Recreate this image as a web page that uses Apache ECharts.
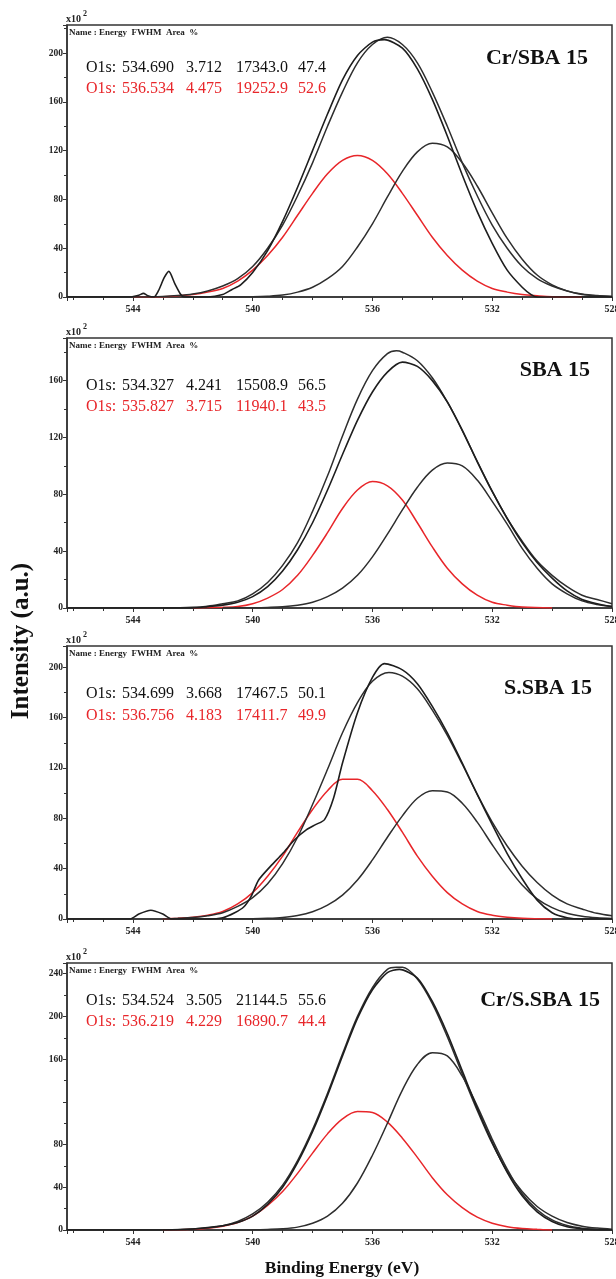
<!DOCTYPE html>
<html>
<head>
<meta charset="utf-8">
<script src="https://cdn.jsdelivr.net/npm/echarts@6/dist/echarts.min.js"></script>
<style>
html, body { margin: 0; padding: 0; background: #fff; }
#chart { width: 616px; height: 1279px; }
</style>
</head>
<body>
<div id="chart"></div>
<script>
// O1s spectra, [binding energy (eV), intensity x10^2]

// Cr/SBA 15
var crSbaData = [[546.2,0],[545,0],[544.1,0],[543.8,1.5],[543.65,3],[543.5,1],[543.3,0],[543.15,5],[542.95,16],[542.8,21],[542.6,11],[542.4,2],[542.3,0],[541.5,0],[541,2],[540.7,6],[540.4,10],[540,20],[539.5,38],[539,62],[538.5,90],[538,120],[537.5,150],[537,178],[536.5,198],[536,209],[535.6,211],[535,204],[534.5,187],[534,162],[533.5,132],[533,100],[532.5,70],[532,44],[531.5,22],[531,8],[530.7,2],[530.5,0],[528,0]];
var crSbaEnvelope = [[544,0],[543,0.5],[542.5,1.2],[542,2.5],[541.5,5],[541,9],[540.5,15],[540,25],[539.5,40],[539,59],[538.5,83],[538,110],[537.5,140],[537,168],[536.5,192],[536,207],[535.5,213],[535,207],[534.5,192],[534,168],[533.5,140],[533,110],[532.5,83],[532,59],[531.5,40],[531,25],[530.5,15],[530,9],[529.5,5],[529,2.5],[528.5,1.2],[528,0.5]];
var crSbaPeak1 = [[541,0],[540,0.2],[539.5,0.6],[539,1.6],[538.5,4],[538,8],[537.5,15],[537,25],[536.5,41],[536,60],[535.5,82],[535,103],[534.5,119],[534,126],[533.5,123],[533,110],[532.5,91],[532,69],[531.5,48],[531,31],[530.5,18],[530,10],[529.5,5],[529,2],[528.5,1],[528,0.4]];
var crSbaPeak2 = [[544,0],[543,0.3],[542.5,1],[542,2],[541.5,4],[541,7],[540.5,13],[540,22],[539.5,34],[539,49],[538.5,67],[538,85],[537.5,101],[537,112],[536.5,116],[536,112],[535.5,101],[535,85],[534.5,67],[534,49],[533.5,34],[533,22],[532.5,13],[532,7],[531.5,4],[531,2],[530.5,1],[530,0.3],[529,0]];
var crSbaRows = [['O1s:','534.690','3.712','17343.0','47.4'],['O1s:','536.534','4.475','19252.9','52.6']];

// SBA 15
var sbaData = [[546.2,0],[542,0],[541.5,1],[541,2],[540.5,4],[540,8],[539.5,15],[539,26],[538.5,41],[538,60],[537.5,83],[537,108],[536.5,132],[536,152],[535.5,166],[535,173],[534.5,170],[534,160],[533.5,145],[533,125],[532.5,103],[532,82],[531.5,63],[531,46],[530.5,32],[530,21],[529.5,12],[529,6],[528.5,3],[528,1]];
var sbaEnvelope = [[543,0],[542,0.5],[541.5,1.3],[541,3],[540.5,5],[540,10],[539.5,18],[539,30],[538.5,46],[538,68],[537.5,93],[537,121],[536.5,147],[536,167],[535.5,179],[535.2,181],[535,180],[534.5,174],[534,162],[533.5,145],[533,125],[532.5,103],[532,82],[531.5,63],[531,47],[530.5,33],[530,23],[529.5,15],[529,9],[528.5,6],[528,3]];
var sbaPeak1 = [[541,0],[540,0.2],[539.5,0.4],[539,0.8],[538.5,1.9],[538,4],[537.5,8],[537,14],[536.5,23],[536,36],[535.5,52],[535,69],[534.5,85],[534,97],[533.5,102],[533,100],[532.5,90],[532,75],[531.5,59],[531,42],[530.5,28],[530,17],[529.5,10],[529,5],[528.5,2.5],[528,1.1]];
var sbaPeak2 = [[542,0],[541,0.5],[540.5,1],[540,3],[539.5,7],[539,13],[538.5,23],[538,37],[537.5,53],[537,70],[536.5,83],[536,89],[535.5,86],[535,76],[534.5,60],[534,43],[533.5,28],[533,17],[532.5,9],[532,4],[531.5,2],[531,0.7],[530,0]];
var sbaRows = [['O1s:','534.327','4.241','15508.9','56.5'],['O1s:','535.827','3.715','11940.1','43.5']];

// S.SBA 15
var ssbaData = [[546.2,0],[545.5,0],[544.1,0],[543.8,4],[543.4,7],[543.0,4],[542.7,0],[541.5,0],[541,1],[540.6,5],[540.3,9.5],[540.05,18],[539.8,31],[539.4,42],[539,52],[538.6,63],[538.2,71],[537.9,75],[537.6,79],[537.3,96],[537,124],[536.5,164],[536,192],[535.6,203],[535,198],[534.5,187],[534,169],[533.5,148],[533,124],[532.5,99],[532,75],[531.5,52],[531,32],[530.5,15],[530,5],[529.5,1],[529,0],[528,0]];
var ssbaEnvelope = [[543,0],[542.5,0.5],[542,1.2],[541.5,2.6],[541,5],[540.5,10],[540,17],[539.5,28],[539,44],[538.5,65],[538,91],[537.5,119],[537,148],[536.5,172],[536,189],[535.45,196],[535,193],[534.5,183],[534,166],[533.5,146],[533,123],[532.5,99],[532,77],[531.5,58],[531,42],[530.5,29],[530,19],[529.5,12],[529,8],[528.5,4.5],[528,2.5]];
var ssbaPeak1 = [[541,0],[540,0.2],[539.5,0.5],[539,1.2],[538.5,2.7],[538,5.7],[537.5,11],[537,19],[536.5,31],[536,47],[535.5,65],[535,82],[534.5,96],[534,102],[533.5,101],[533,92],[532.5,77],[532,59],[531.5,42],[531,27],[530.5,16],[530,9],[529.5,4.5],[529,2.1],[528.5,0.9],[528,0.4]];
var ssbaPeak2 = [[543,0],[542.5,0.6],[542,1.4],[541.5,3],[541,6],[540.5,12],[540,21],[539.5,34],[539,50],[538.5,69],[538,87],[537.5,102],[537,111],[536.5,111],[536,102],[535.5,87],[535,69],[534.5,50],[534,34],[533.5,21],[533,12],[532.5,6],[532,3],[531.5,1.4],[531,0.6],[530,0]];
var ssbaRows = [['O1s:','534.699','3.668','17467.5','50.1'],['O1s:','536.756','4.183','17411.7','49.9']];

// Cr/S.SBA 15
var crSsbaData = [[546.2,0],[543,0],[542,1],[541,4],[540.5,7],[540,13],[539.5,24],[539,40],[538.5,63],[538,92],[537.5,126],[537,163],[536.5,198],[536,225],[535.5,241],[535.1,244],[534.5,236],[534,214],[533.5,184],[533,149],[532.5,114],[532,82],[531.5,54],[531,32],[530.5,17],[530,8],[529.5,3],[529,1],[528.5,0],[528,0]];
var crSsbaEnvelope = [[543,0],[542,0.9],[541.5,2],[541,4],[540.5,8],[540,15],[539.5,26],[539,42],[538.5,65],[538,94],[537.5,128],[537,165],[536.5,200],[536,227],[535.5,244],[535.2,246],[535,246],[534.5,235],[534,212],[533.5,181],[533,146],[532.5,112],[532,81],[531.5,55],[531,36],[530.5,22],[530,13],[529.5,7],[529,3.6],[528.5,1.8],[528,0.8]];
var crSsbaPeak1 = [[541,0],[540,0.2],[539.5,0.5],[539,1.1],[538.5,2.7],[538,6.3],[537.5,13],[537,25],[536.5,44],[536,70],[535.5,100],[535,131],[534.5,155],[534,166],[533.5,163],[533,144],[532.5,116],[532,85],[531.5,57],[531,34],[530.5,19],[530,9.4],[529.5,4.2],[529,1.7],[528.5,0.7],[528,0.2]];
var crSsbaPeak2 = [[543,0],[542,0.7],[541.5,1.7],[541,3.6],[540.5,7],[540,13],[539.5,23],[539,36],[538.5,53],[538,72],[537.5,90],[537,104],[536.5,111],[536,110],[535.5,101],[535,86],[534.5,68],[534,49],[533.5,33],[533,21],[532.5,12],[532,6.4],[531.5,3.1],[531,1.4],[530.5,0.6],[530,0]];
var crSsbaRows = [['O1s:','534.524','3.505','21144.5','55.6'],['O1s:','536.219','4.229','16890.7','44.4']];

var SERIF = '"Liberation Serif", "Times New Roman", serif';
var BLACK = '#2e2e2e';
var RED = '#e8262a';

var panels = [
    {title: 'Cr/SBA 15', top: 25, bottom: 297, yMax: 223, hide: [], data: crSbaData, fit: crSbaEnvelope, p1: crSbaPeak1, p2: crSbaPeak2, rows: crSbaRows, titleX: 588, titleY: 58, rowY: [68, 89]},
    {title: 'SBA 15', top: 338, bottom: 608, yMax: 190, hide: [], data: sbaData, fit: sbaEnvelope, p1: sbaPeak1, p2: sbaPeak2, rows: sbaRows, titleX: 590, titleY: 370, rowY: [386, 407]},
    {title: 'S.SBA 15', top: 646, bottom: 919, yMax: 217, hide: [], data: ssbaData, fit: ssbaEnvelope, p1: ssbaPeak1, p2: ssbaPeak2, rows: ssbaRows, titleX: 592, titleY: 688, rowY: [694, 716]},
    {title: 'Cr/S.SBA 15', top: 963, bottom: 1230, yMax: 250, hide: [120], data: crSsbaData, fit: crSsbaEnvelope, p1: crSsbaPeak1, p2: crSsbaPeak2, rows: crSsbaRows, titleX: 600, titleY: 1000, rowY: [1001, 1022]}
];
var rowX = [86, 122, 186, 236, 298];

var grids = [], xAxes = [], yAxes = [], series = [], graphics = [];

panels.forEach(function (p, i) {
    grids.push({
        left: 67, right: 4, top: p.top, height: p.bottom - p.top,
        outerBoundsMode: 'none', containLabel: false,
        show: true, borderColor: '#333', borderWidth: 1.5, backgroundColor: 'transparent'
    });
    xAxes.push({
        type: 'value', gridIndex: i, inverse: true, min: 528, max: 546.2, interval: 4,
        axisLine: {onZero: false, lineStyle: {color: '#333', width: 1.5}},
        axisTick: {length: 4, lineStyle: {color: '#333'}},
        minorTick: {show: true, splitNumber: 4, length: 3, lineStyle: {color: '#333'}},
        splitLine: {show: false},
        axisLabel: {
            fontFamily: SERIF, fontWeight: 'bold', fontSize: 10, color: '#222', margin: 7,
            formatter: function (v) { return v % 4 === 0 ? String(v) : ''; }
        }
    });
    yAxes.push({
        type: 'value', gridIndex: i, min: 0, max: p.yMax, interval: 40,
        axisLine: {show: true, onZero: false, lineStyle: {color: '#333', width: 1.5}},
        axisTick: {show: true, length: 4, lineStyle: {color: '#333'}},
        minorTick: {show: true, splitNumber: 2, length: 3, lineStyle: {color: '#333'}},
        splitLine: {show: false},
        axisLabel: {
            fontFamily: SERIF, fontWeight: 'bold', fontSize: 9.5, color: '#222', margin: 4,
            formatter: function (v) {
                if (v % 40 !== 0 || p.hide.indexOf(v) >= 0) return '';
                return String(v);
            }
        }
    });

    var common = {type: 'line', xAxisIndex: i, yAxisIndex: i, showSymbol: false, symbol: 'none', silent: true};
    series.push(Object.assign({}, common, {data: p.p2, smooth: 0.35, lineStyle: {color: RED, width: 1.5}}));
    series.push(Object.assign({}, common, {data: p.p1, smooth: 0.35, lineStyle: {color: BLACK, width: 1.5}}));
    series.push(Object.assign({}, common, {data: p.fit, smooth: 0.35, lineStyle: {color: BLACK, width: 1.5}}));
    series.push(Object.assign({}, common, {data: p.data, smooth: 0.25, lineStyle: {color: '#1e1e1e', width: 1.6}}));

    // x10^2 above the frame
    graphics.push({type: 'text', x: 66, y: p.top - 1, style: {text: 'x10', font: 'bold 10px ' + SERIF, fill: '#222', verticalAlign: 'bottom'}});
    graphics.push({type: 'text', x: 83, y: p.top - 7, style: {text: '2', font: 'bold 8px ' + SERIF, fill: '#222', verticalAlign: 'bottom'}});
    graphics.push({type: 'text', x: 69, y: p.top + 8, style: {text: 'Name : Energy  FWHM  Area  %', font: 'bold 9px ' + SERIF, fill: '#222', verticalAlign: 'middle'}});

    p.rows.forEach(function (row, r) {
        row.forEach(function (tok, k) {
            graphics.push({type: 'text', x: rowX[k], y: p.rowY[r], style: {
                text: tok, font: '16px ' + SERIF, fill: r === 0 ? '#111' : RED, verticalAlign: 'middle'
            }});
        });
    });

    graphics.push({type: 'text', x: p.titleX, y: p.titleY, style: {
        text: p.title, font: 'bold 22px ' + SERIF, fill: '#111', align: 'right', verticalAlign: 'middle'
    }});
});

graphics.push({type: 'text', x: 22, y: 641, rotation: Math.PI / 2, style: {
    text: 'Intensity (a.u.)', font: 'bold 25px ' + SERIF, fill: '#111', align: 'center', verticalAlign: 'middle'
}});
graphics.push({type: 'text', x: 342, y: 1268, style: {
    text: 'Binding Energy (eV)', font: 'bold 17.5px ' + SERIF, fill: '#111', align: 'center', verticalAlign: 'middle'
}});

var myChart = echarts.init(document.getElementById('chart'), null, {renderer: 'canvas'});
var option = {
    animation: false,
    backgroundColor: '#fff',
    grid: grids,
    xAxis: xAxes,
    yAxis: yAxes,
    series: series,
    graphic: graphics
};
option && myChart.setOption(option);
</script>
</body>
</html>
